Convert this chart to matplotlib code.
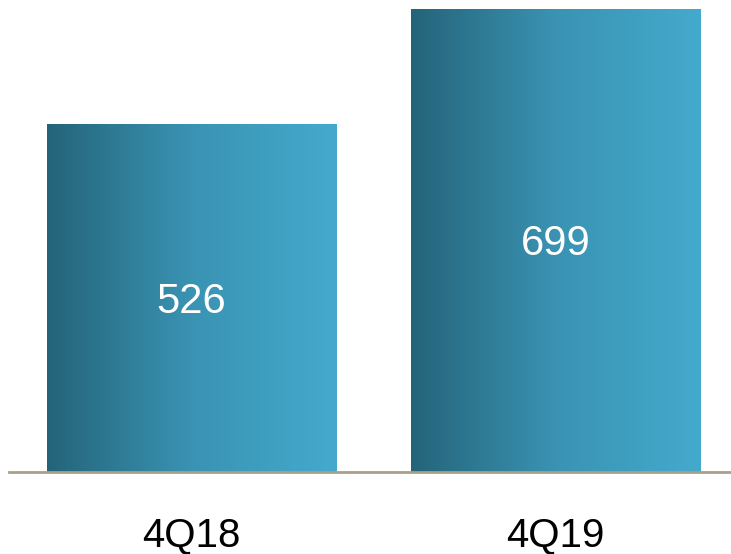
import matplotlib.pyplot as plt
import numpy as np
from matplotlib.colors import LinearSegmentedColormap

periods = ['4Q18', '4Q19']
values = [526, 699]

plt.rcParams['font.family'] = ['Liberation Sans', 'DejaVu Sans']

fig = plt.figure(figsize=(7.31, 5.54), dpi=100)
ax = fig.add_axes([0, 82 / 554, 1, 472 / 554])

# left-to-right teal shading inside each bar
grad = LinearSegmentedColormap.from_list('teal', ['#246479', '#3a93b3', '#44aacd'])
ramp = np.linspace(0, 1, 256).reshape(1, -1)

x = np.arange(len(periods))
bars = ax.bar(x, values, width=0.794, color='none', edgecolor='none')
for b, v in zip(bars, values):
    x0 = b.get_x()
    img = ax.imshow(ramp, cmap=grad, aspect='auto',
                    extent=(x0, x0 + b.get_width(), 0, b.get_height()),
                    zorder=2)
    img.set_clip_path(b)
    ax.text(b.get_x() + b.get_width() / 2, v / 2 - 6, str(v),
            ha='center', va='center', color='white', fontsize=30, zorder=3)

for xi, p in zip(x, periods):
    ax.text(xi, -95, p, ha='center', va='center', color='black',
            fontsize=29, clip_on=False)

ax.set_xlim(-0.526, 1.482)
ax.set_ylim(0, 712.6)

# baseline
ax.axhline(0, xmin=9 / 731, xmax=1, color='#aa9f88', lw=2, zorder=4, clip_on=False)

ax.axis('off')
fig.savefig('out.png', dpi=100)
